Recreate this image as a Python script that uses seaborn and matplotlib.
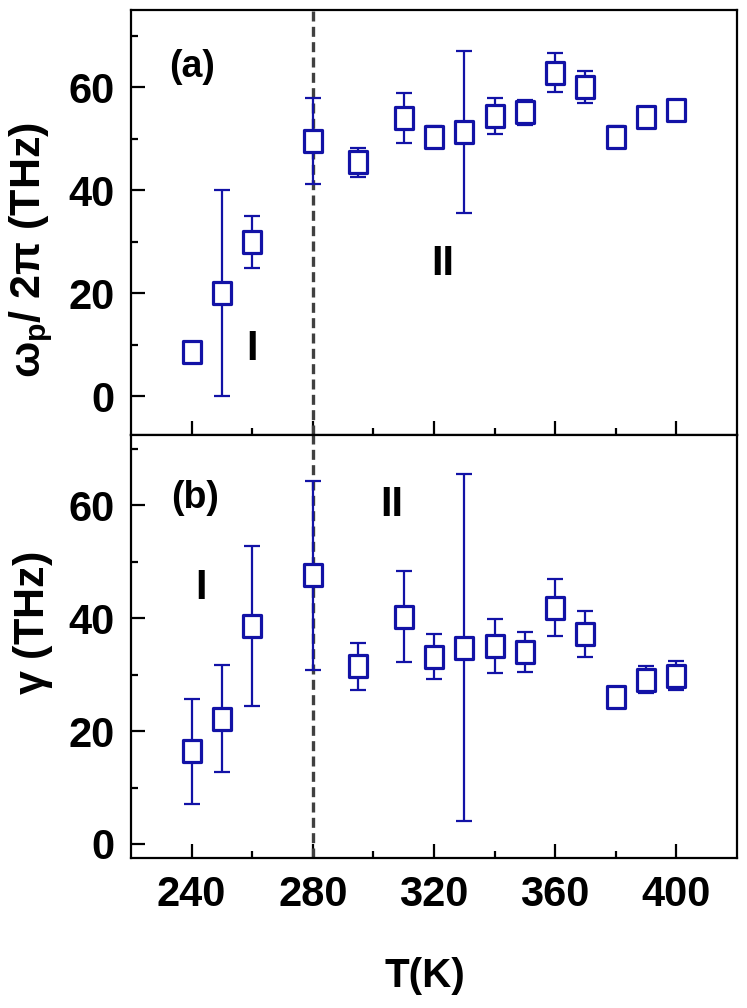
import numpy as np
import matplotlib
matplotlib.use("Agg")
import matplotlib.pyplot as plt
from matplotlib.path import Path
from matplotlib.ticker import MultipleLocator, FixedLocator
import seaborn as sns

# temperatures (K)
temps = [240, 250, 260, 280, 295, 310, 320, 330, 340, 350, 360, 370, 380, 390, 400]

# panel (a): plasma frequency omega_p / 2pi (THz)
omega_p = [8.7, 20.0, 30.0, 49.6, 45.4, 54.0, 50.4, 51.3, 54.4, 55.1, 62.8, 60.1,
           50.4, 54.2, 55.6]
omega_err = [0.0, 20.0, 5.0, 8.3, 2.9, 4.8, 2.0, 15.7, 3.5, 2.5, 3.8, 3.1,
             2.0, 2.0, 1.5]

# panel (b): scattering rate gamma (THz)
gamma = [16.4, 22.2, 38.6, 47.6, 31.5, 40.3, 33.2, 34.8, 35.1, 34.0, 41.9, 37.2,
         26.0, 29.1, 29.8]
gamma_err = [9.3, 9.5, 14.2, 16.7, 4.2, 8.0, 4.0, 30.8, 4.8, 3.6, 5.1, 4.1,
             1.0, 2.4, 2.6]

x_ticks = [240, 280, 320, 360, 400]
x_minor = [260, 300, 340, 380]

BLUE = "#1212a6"

sns.set_style("ticks")
plt.rcParams["font.family"] = ["Liberation Sans", "DejaVu Sans"]
plt.rcParams["font.weight"] = "bold"
plt.rcParams["text.color"] = "black"
plt.rcParams["axes.labelcolor"] = "black"
plt.rcParams["xtick.color"] = "black"
plt.rcParams["ytick.color"] = "black"
plt.rcParams["mathtext.fontset"] = "custom"
plt.rcParams["mathtext.rm"] = "Liberation Sans:bold"
plt.rcParams["mathtext.it"] = "Liberation Sans:bold"
plt.rcParams["mathtext.bf"] = "Liberation Sans:bold"

# open rectangle marker, a bit taller than wide
rect = Path([(-1, -1.2), (1, -1.2), (1, 1.2), (-1, 1.2), (-1, -1.2)],
            closed=True)

fig = plt.figure(figsize=(7.47, 10.08), dpi=100)
ax_a = fig.add_axes([0.1754, 0.5685, 0.8112, 0.4216])
ax_b = fig.add_axes([0.1754, 0.1488, 0.8112, 0.4197])


def draw_panel(ax, y, yerr):
    ax.errorbar(temps, y, yerr=yerr, fmt="none", ecolor=BLUE, elinewidth=1.6,
                capsize=6.0, capthick=1.6, zorder=2)
    sns.scatterplot(x=temps, y=y, ax=ax, marker=rect, s=260,
                    facecolor="white", edgecolor=BLUE, linewidth=2.3,
                    zorder=3)
    ax.axvline(280, color="#404040", lw=2.4, ls=(0, (3.0, 1.6)), zorder=1)
    ax.set_xlim(220, 420)
    ax.xaxis.set_major_locator(FixedLocator(x_ticks))
    ax.xaxis.set_minor_locator(FixedLocator(x_minor))
    ax.yaxis.set_major_locator(MultipleLocator(20))
    ax.yaxis.set_minor_locator(MultipleLocator(10))
    ax.tick_params(which="both", direction="in", top=False, right=False,
                   width=1.6, labelsize=30)
    ax.tick_params(which="major", length=10, pad=12)
    ax.tick_params(which="minor", length=5)
    for sp in ax.spines.values():
        sp.set_linewidth(1.6)
        sp.set_color("black")


draw_panel(ax_a, omega_p, omega_err)
ax_a.set_ylim(-7.5, 75)
ax_a.tick_params(axis="x", labelbottom=False)
ax_a.set_ylabel(r"$\omega_p$/ 2$\pi$ (THz)", fontsize=31, fontweight="bold")
ax_a.yaxis.set_label_coords(-0.125, 0.435)
ax_a.text(240, 64, "(a)", fontsize=27, fontweight="bold", ha="center", va="center")
ax_a.text(260, 9.2, "I", fontsize=30, fontweight="bold", ha="center", va="center")
ax_a.text(323, 25.7, "II", fontsize=30, fontweight="bold", ha="center", va="center")

draw_panel(ax_b, gamma, gamma_err)
ax_b.set_ylim(-2.5, 72.5)
ax_b.set_ylabel(r"$\gamma$ (THz)", fontsize=31, fontweight="bold")
ax_b.yaxis.set_label_coords(-0.125, 0.555)
ax_b.set_xlabel("T(K)", fontsize=29, fontweight="bold")
ax_b.xaxis.set_label_coords(0.485, -0.235)
ax_b.text(241, 61.3, "(b)", fontsize=27, fontweight="bold", ha="center", va="center")
ax_b.text(306, 60.1, "II", fontsize=30, fontweight="bold", ha="center", va="center")
ax_b.text(243, 45.3, "I", fontsize=30, fontweight="bold", ha="center", va="center")

fig.savefig("out.png", dpi=100)
